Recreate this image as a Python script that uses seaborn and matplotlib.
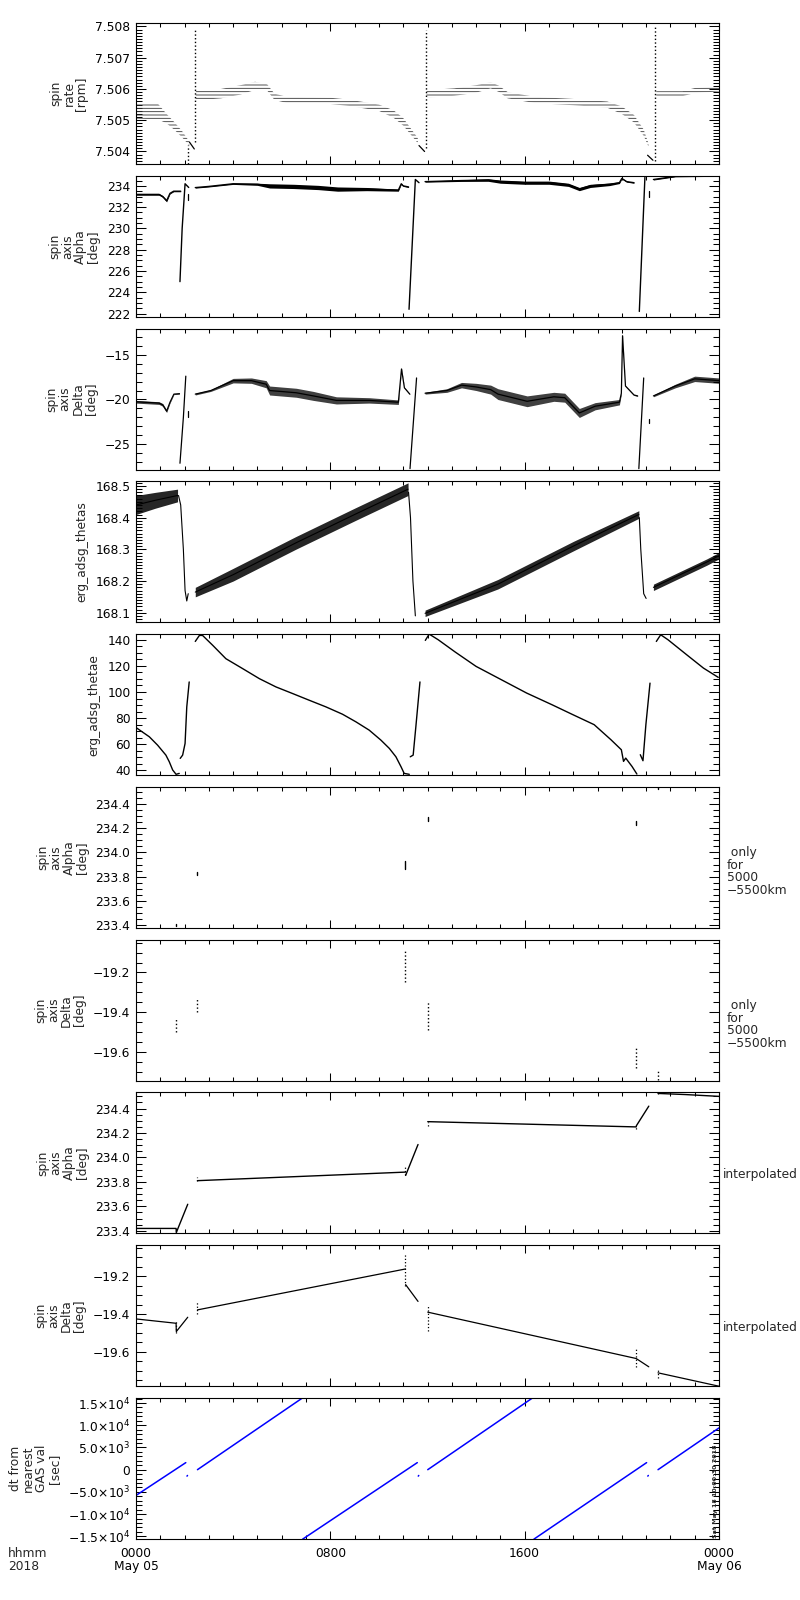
import numpy as np
import pandas as pd
import matplotlib
matplotlib.use('Agg')
import matplotlib.pyplot as plt
import seaborn as sns
from matplotlib.ticker import MultipleLocator, FixedLocator

# ---------------- data (hours since 2018-05-05 00:00) ----------------
# spin rate [rpm]: quantized bands (centre, half width) + short lines + dotted jumps
rate_t = [[0.0, 0.9, 1.26, 1.6, 1.9, 2.2],
          [2.46, 3.5, 4.3, 4.9, 5.4, 5.7, 6.2, 8.0, 8.85, 10.0, 10.6, 11.0, 11.3, 11.6],
          [11.96, 13.1, 14.0, 14.6, 14.95, 15.3, 16.4, 18.0, 19.4, 20.0, 20.5, 20.9, 21.1],
          [21.42, 22.5, 23.0, 24.0]]
rate_v = [[7.50530, 7.50528, 7.50505, 7.50480, 7.50455, 7.50425],
          [7.50578, 7.50585, 7.50597, 7.50610, 7.50605, 7.50575, 7.50565, 7.50562, 7.50555,
           7.50540, 7.50520, 7.50495, 7.50465, 7.50435],
          [7.50584, 7.50590, 7.50600, 7.50612, 7.50600, 7.50580, 7.50565, 7.50558, 7.50550,
           7.50532, 7.50505, 7.50460, 7.50420],
          [7.50585, 7.50585, 7.50595, 7.50600]]
rate_w = [[0.00025, 0.00025, 0.00015, 0.00012, 0.00010, 0.00006],
          [0.00015, 0.00015, 0.00015, 0.00013, 0.00010, 0.00010, 0.00010, 0.00010, 0.00010,
           0.00010, 0.00012, 0.00012, 0.00010, 0.00008],
          [0.00012, 0.00012, 0.00012, 0.00010, 0.00010, 0.00010, 0.00010, 0.00010, 0.00010,
           0.00012, 0.00012, 0.00010, 0.00005],
          [0.00008, 0.00008, 0.00008, 0.00008]]
rate_line_t = [[2.20, 2.40], [11.65, 11.88], [21.06, 21.28]]
rate_line_v = [[7.50430, 7.50408], [7.50419, 7.50400], [7.50388, 7.50372]]
rate_jump_t = [2.14, 2.44, 11.93, 21.37]
rate_jump_lo = [7.5036, 7.5043, 7.5041, 7.5037]
rate_jump_hi = [7.5042, 7.5079, 7.5079, 7.5080]

# spin axis alpha [deg]
alpha_t = [[0.0, 0.95, 1.1, 1.26, 1.4, 1.55, 1.84],
           [1.81, 1.90, 2.02, 2.17],
           [2.44, 3.0, 4.0, 5.0, 5.5, 6.5, 7.5, 8.3, 9.5, 10.8, 10.92, 11.0, 11.22],
           [11.24, 11.5, 11.65],
           [11.9, 13.4, 14.5, 15.0, 16.0, 17.0, 17.8, 18.25, 18.7, 19.5, 19.9, 20.0, 20.2, 20.5],
           [20.72, 20.95],
           [21.3, 22.2, 24.0]]
alpha_v = [[233.2, 233.2, 233.0, 232.6, 233.3, 233.5, 233.5],
           [225.0, 230.0, 234.2, 233.85],
           [233.84, 233.95, 234.2, 234.15, 234.0, 233.95, 233.85, 233.7, 233.7, 233.6, 234.2, 234.0, 233.9],
           [222.4, 234.6, 234.3],
           [234.4, 234.5, 234.55, 234.4, 234.3, 234.3, 234.1, 233.7, 234.0, 234.15, 234.3, 234.7, 234.4, 234.3],
           [222.2, 234.8],
           [234.6, 234.9, 234.95]]
alpha_w = [[0.08, 0.08, 0.08, 0.1, 0.05, 0.05, 0.05],
           [0, 0, 0, 0],
           [0.05, 0.05, 0.06, 0.1, 0.2, 0.2, 0.2, 0.2, 0.15, 0.1, 0.05, 0.05, 0.05],
           [0, 0, 0],
           [0.05, 0.08, 0.12, 0.15, 0.15, 0.15, 0.15, 0.15, 0.15, 0.12, 0.08, 0.05, 0.05, 0.05],
           [0, 0],
           [0.05, 0.05, 0.05]]
alpha_dash_t = [2.14, 21.1]
alpha_dash_lo = [232.7, 233.0]
alpha_dash_hi = [233.2, 233.5]

# spin axis delta [deg]
delta_t = [[0.0, 0.95, 1.1, 1.26, 1.4, 1.56, 1.79],
           [1.81, 1.95, 2.05],
           [2.44, 3.08, 4.0, 4.75, 5.36, 5.5, 6.6, 7.3, 8.25, 9.6, 10.8, 10.93, 11.05, 11.27],
           [11.28, 11.55],
           [11.9, 12.8, 13.4, 14.0, 14.6, 14.9, 15.5, 16.1, 17.2, 17.65, 18.25, 18.9, 19.9, 19.98,
            20.03, 20.15, 20.5, 20.65],
           [20.7, 20.9],
           [21.3, 22.2, 23.0, 24.0]]
delta_v = [[-20.25, -20.4, -20.6, -21.3, -20.3, -19.4, -19.35],
           [-27.1, -22.0, -17.4],
           [-19.4, -19.0, -17.9, -17.9, -18.3, -19.0, -19.25, -19.6, -20.1, -20.1, -20.3, -16.6, -18.7, -19.4],
           [-27.7, -17.6],
           [-19.3, -19.0, -18.4, -18.6, -18.9, -19.4, -19.8, -20.2, -19.7, -19.8, -21.5, -20.75, -20.3,
            -19.3, -12.9, -18.5, -19.5, -19.6],
           [-27.7, -17.6],
           [-19.6, -18.5, -17.7, -17.9]]
delta_w = [[0.15, 0.15, 0.15, 0.15, 0.1, 0.05, 0.05],
           [0, 0, 0],
           [0.1, 0.1, 0.25, 0.3, 0.4, 0.5, 0.5, 0.5, 0.4, 0.3, 0.25, 0.1, 0.05, 0.05],
           [0, 0],
           [0.1, 0.2, 0.3, 0.4, 0.5, 0.6, 0.6, 0.6, 0.5, 0.5, 0.5, 0.4, 0.3, 0.1, 0.05, 0.05, 0.05, 0.05],
           [0, 0],
           [0.1, 0.2, 0.3, 0.3]]
delta_dash_t = [2.14, 21.1]
delta_dash_lo = [-22.0, -22.6]
delta_dash_hi = [-21.3, -22.2]

# erg_adsg_thetas
thetas_t = [[0.0, 0.8, 1.71],
            [1.75, 1.84, 1.95, 2.02, 2.09, 2.15],
            [2.44, 4.0, 6.57, 9.0, 11.2],
            [11.22, 11.3, 11.4, 11.5],
            [11.9, 14.9, 18.0, 20.7],
            [20.72, 20.78, 20.9, 21.0],
            [21.3, 23.5, 24.0]]
thetas_v = [[168.44, 168.455, 168.47],
            [168.47, 168.44, 168.30, 168.17, 168.137, 168.16],
            [168.165, 168.22, 168.32, 168.41, 168.49],
            [168.48, 168.40, 168.20, 168.09],
            [168.098, 168.19, 168.31, 168.41],
            [168.40, 168.30, 168.16, 168.145],
            [168.18, 168.26, 168.28]]
thetas_w = [[0.03, 0.025, 0.02],
            [0, 0, 0, 0, 0, 0],
            [0.015, 0.02, 0.02, 0.02, 0.02],
            [0, 0, 0, 0],
            [0.01, 0.015, 0.015, 0.012],
            [0, 0, 0, 0],
            [0.01, 0.01, 0.01]]

# erg_adsg_thetae
thetae_t = [[0.0, 0.55, 0.89, 1.23, 1.37, 1.51, 1.65, 1.78],
            [1.82, 1.92, 2.02, 2.09, 2.19],
            [2.44, 2.61, 2.74, 3.16, 3.70, 4.39, 5.08, 5.76, 6.45, 7.13, 7.82, 8.50, 9.05, 9.60,
             10.08, 10.43, 10.70, 10.91, 11.04, 11.25],
            [11.29, 11.41, 11.52, 11.69],
            [11.91, 12.07, 12.44, 13.14, 14.0, 15.04, 16.08, 17.12, 17.99, 18.86, 19.55, 19.98, 20.07,
             20.16, 20.42, 20.62],
            [20.76, 20.87, 20.99, 21.16],
            [21.42, 21.6, 21.9, 22.67, 23.36, 23.97]]
thetae_v = [[72.8, 65.7, 59.3, 51.7, 46.6, 40.3, 37.0, 37.7],
            [49.2, 51.7, 60.6, 88.6, 107.7],
            [138.7, 143.3, 143.3, 135.7, 125.5, 117.9, 110.2, 103.9, 98.8, 93.7, 88.6, 83.0, 77.2,
             70.8, 63.2, 56.8, 50.4, 42.8, 37.7, 37.0],
            [50.4, 51.7, 73.3, 107.7],
            [139.5, 144.3, 140.0, 130.6, 119.6, 109.4, 99.2, 90.3, 82.6, 75.0, 63.5, 55.8, 46.9, 49.4,
             43.0, 37.2],
            [52.0, 47.4, 75.0, 106.8],
            [138.7, 143.8, 140.0, 128.5, 118.3, 111.2]]

# raw spin axis values only for 5000-5500 km
alpha_raw_t = [1.65, 2.51, 11.09, 12.01, 20.59, 21.50]
alpha_raw_lo = [233.39, 233.81, 233.86, 234.26, 234.23, 234.52]
alpha_raw_hi = [233.41, 233.84, 233.93, 234.29, 234.26, 234.54]
delta_raw_t = [1.65, 2.53, 11.09, 12.01, 20.59, 21.49]
delta_raw_lo = [-19.50, -19.40, -19.25, -19.49, -19.68, -19.74]
delta_raw_hi = [-19.43, -19.33, -19.08, -19.35, -19.58, -19.69]

# interpolated spin axis
alpha_i_t = [[0.0, 1.65, 1.66, 2.13], [2.53, 11.09], [11.10, 11.61],
             [12.01, 20.59, 20.60, 21.11], [21.49, 22.6, 24.0]]
alpha_i_v = [[233.419, 233.419, 233.386, 233.617], [233.81, 233.88], [233.853, 234.106],
             [234.293, 234.25, 234.26, 234.42], [234.524, 234.515, 234.50]]
delta_i_t = [[0.0, 1.65, 1.66, 2.13], [2.53, 11.09], [11.10, 11.61],
             [12.01, 20.59, 21.11], [21.49, 24.0]]
delta_i_v = [[-19.426, -19.449, -19.493, -19.417], [-19.378, -19.161], [-19.244, -19.333],
             [-19.39, -19.636, -19.68], [-19.712, -19.783]]

# dt from nearest GAS val [sec]
dt_t = [[0.0, 2.05], [2.10, 2.12], [2.53, 6.84], [6.86, 11.58], [11.62, 11.64],
        [12.01, 16.31], [16.38, 21.02], [21.07, 21.09], [21.49, 24.0]]
dt_v = [[-5800, 1587], [-1450, -1300], [0, 16100], [-15640, 1587], [-1450, -1300],
        [0, 16100], [-15640, 1587], [-1450, -1300], [0, 9400]]

# ---------------- helpers ----------------
def seg_frame(ts, vs, ws=None):
    rows = []
    for i, (t, v) in enumerate(zip(ts, vs)):
        w = ws[i] if ws is not None else [0] * len(t)
        for a, b, c in zip(t, v, w):
            rows.append((a, b, c, i))
    return pd.DataFrame(rows, columns=['t', 'v', 'w', 'seg'])


def draw_lines(ax, df, color='black', lw=0.9, ls='-'):
    sns.lineplot(data=df, x='t', y='v', units='seg', estimator=None, sort=False,
                 color=color, linewidth=lw, linestyle=ls, ax=ax, legend=False)


def draw_band(ax, df, **kw):
    for s, g in df.groupby('seg'):
        if g['w'].max() > 0:
            ax.fill_between(g['t'], g['v'] - g['w'], g['v'] + g['w'], **kw)


def draw_marks(ax, t, lo, hi, ls=':', lw=0.9, color='black'):
    df = seg_frame([[x, x] for x in t], [[a, b] for a, b in zip(lo, hi)])
    draw_lines(ax, df, color=color, lw=lw, ls=ls)


# ---------------- figure ----------------
sns.set_style('ticks')
plt.rcParams['font.family'] = ['DejaVu Sans']
plt.rcParams['hatch.linewidth'] = 0.6
FS = 8.8

fig, axes = plt.subplots(10, 1, figsize=(8, 16), dpi=100, sharex=True)
fig.subplots_adjust(left=136 / 800, right=719 / 800, top=1 - 23 / 1600,
                    bottom=1 - 1539 / 1600, hspace=11.8 / 141)

# 1 spin rate
ax = axes[0]
draw_band(ax, seg_frame(rate_t, rate_v, rate_w), facecolor='none', edgecolor='0.2',
          hatch='-----', linewidth=0)
draw_lines(ax, seg_frame(rate_line_t, rate_line_v), lw=0.9)
draw_marks(ax, rate_jump_t, rate_jump_lo, rate_jump_hi, ls=':', lw=1.0)

# 2 spin axis alpha
ax = axes[1]
df = seg_frame(alpha_t, alpha_v, alpha_w)
draw_band(ax, df, color='black', linewidth=0)
draw_lines(ax, df, lw=1.0)
draw_marks(ax, alpha_dash_t, alpha_dash_lo, alpha_dash_hi, ls='-')

# 3 spin axis delta
ax = axes[2]
df = seg_frame(delta_t, delta_v, delta_w)
draw_band(ax, df, color='black', alpha=0.75, linewidth=0)
draw_lines(ax, df, lw=0.9)
draw_marks(ax, delta_dash_t, delta_dash_lo, delta_dash_hi, ls='-')

# 4 thetas
ax = axes[3]
df = seg_frame(thetas_t, thetas_v, thetas_w)
draw_band(ax, df, color='black', alpha=0.85, linewidth=0)
draw_lines(ax, df, lw=0.8, ls='-')

# 5 thetae
ax = axes[4]
draw_lines(ax, seg_frame(thetae_t, thetae_v), lw=1.0)

# 6, 7 raw values
draw_marks(axes[5], alpha_raw_t, alpha_raw_lo, alpha_raw_hi, ls='-', lw=1.0)
draw_marks(axes[6], delta_raw_t, delta_raw_lo, delta_raw_hi, ls=':', lw=1.0)

# 8, 9 interpolated
draw_lines(axes[7], seg_frame(alpha_i_t, alpha_i_v), lw=1.0)
draw_marks(axes[7], alpha_raw_t, alpha_raw_lo, alpha_raw_hi, ls=':', lw=0.9)
draw_lines(axes[8], seg_frame(delta_i_t, delta_i_v), lw=0.9)
draw_marks(axes[8], delta_raw_t, delta_raw_lo, delta_raw_hi, ls=':', lw=0.9)

# 10 dt
draw_lines(axes[9], seg_frame(dt_t, dt_v), color='#0000ff', lw=1.1)

# ---------------- axes cosmetics ----------------
ylabels = ['spin\nrate\n[rpm]', 'spin\naxis\nAlpha\n[deg]', 'spin\naxis\nDelta\n[deg]',
           'erg_adsg_thetas', 'erg_adsg_thetae', 'spin\naxis\nAlpha\n[deg]',
           'spin\naxis\nDelta\n[deg]', 'spin\naxis\nAlpha\n[deg]', 'spin\naxis\nDelta\n[deg]',
           'dt from\nnearest\nGAS val\n[sec]']
ylims = [(7.5036, 7.50811), (221.7, 234.95), (-27.8, -12.1), (168.0696, 168.5147),
         (36.4, 144.3), (233.378, 234.54), (-19.745, -19.035), (233.378, 234.532),
         (-19.783, -19.035), (-15604, 16133)]
yticks = [[7.504, 7.505, 7.506, 7.507, 7.508], [222, 224, 226, 228, 230, 232, 234],
          [-25, -20, -15], [168.1, 168.2, 168.3, 168.4, 168.5], [40, 60, 80, 100, 120, 140],
          [233.4, 233.6, 233.8, 234.0, 234.2, 234.4], [-19.6, -19.4, -19.2],
          [233.4, 233.6, 233.8, 234.0, 234.2, 234.4], [-19.6, -19.4, -19.2],
          [-15000, -10000, -5000, 0, 5000, 10000, 15000]]
ytlabels = [['7.504', '7.505', '7.506', '7.507', '7.508'],
            ['222', '224', '226', '228', '230', '232', '234'],
            ['\u221225', '\u221220', '\u221215'],
            ['168.1', '168.2', '168.3', '168.4', '168.5'],
            ['40', '60', '80', '100', '120', '140'],
            ['233.4', '233.6', '233.8', '234.0', '234.2', '234.4'],
            ['\u221219.6', '\u221219.4', '\u221219.2'],
            ['233.4', '233.6', '233.8', '234.0', '234.2', '234.4'],
            ['\u221219.6', '\u221219.4', '\u221219.2'],
            [r'$-1.5{\times}10^{4}$', r'$-1.0{\times}10^{4}$', r'$-5.0{\times}10^{3}$', '0',
             r'$5.0{\times}10^{3}$', r'$1.0{\times}10^{4}$', r'$1.5{\times}10^{4}$']]
yminor = [0.0001, 0.5, 1, 0.01, 5, 0.05, 0.05, 0.05, 0.05, 1000]

for i, ax in enumerate(axes):
    ax.set_xlim(0, 24)
    ax.set_ylim(*ylims[i])
    ax.set_yticks(yticks[i], ytlabels[i])
    ax.yaxis.set_minor_locator(MultipleLocator(yminor[i]))
    ax.xaxis.set_major_locator(FixedLocator([0, 8, 16, 24]))
    ax.xaxis.set_minor_locator(MultipleLocator(1))
    ax.tick_params(which='both', direction='in', top=True, right=True, width=0.75,
                   labelsize=FS, pad=4, colors='black')
    ax.tick_params(axis='y', which='major', length=7.5)
    ax.tick_params(axis='y', which='minor', length=4)
    ax.tick_params(axis='x', which='major', length=6)
    ax.tick_params(axis='x', which='minor', length=3)
    for sp in ax.spines.values():
        sp.set_linewidth(0.8)
        sp.set_color('black')
    ax.set_xlabel('')
    ax.set_ylabel(ylabels[i], fontsize=FS, linespacing=1.0, labelpad=5)

for ax in axes[5:7]:
    ax.text(1.013, 0.40, ' only\nfor\n5000\n\u22125500km', transform=ax.transAxes,
            ha='left', va='center', fontsize=FS, linespacing=0.95)
for ax in axes[7:9]:
    ax.text(1.007, 0.42, 'interpolated', transform=ax.transAxes,
            ha='left', va='center', fontsize=FS)

bottom = axes[-1]
bottom.set_xticks([0, 8, 16, 24], ['0000\nMay 05', '0800', '1600', '0000\nMay 06'])
bottom.tick_params(axis='x', which='major', pad=6)
plt.setp(bottom.get_xticklabels(), linespacing=0.95)

fig.text(8 / 800, 1 - 1547 / 1600, 'hhmm\n2018', ha='left', va='top', fontsize=FS,
         linespacing=0.95)
fig.text(718 / 800, 1 - 1538 / 1600, 'Sat May 18 10:00:30 2018', rotation=90,
         ha='right', va='bottom', fontsize=4.6, fontweight='bold')

fig.savefig('out.png', dpi=100, facecolor='white')
